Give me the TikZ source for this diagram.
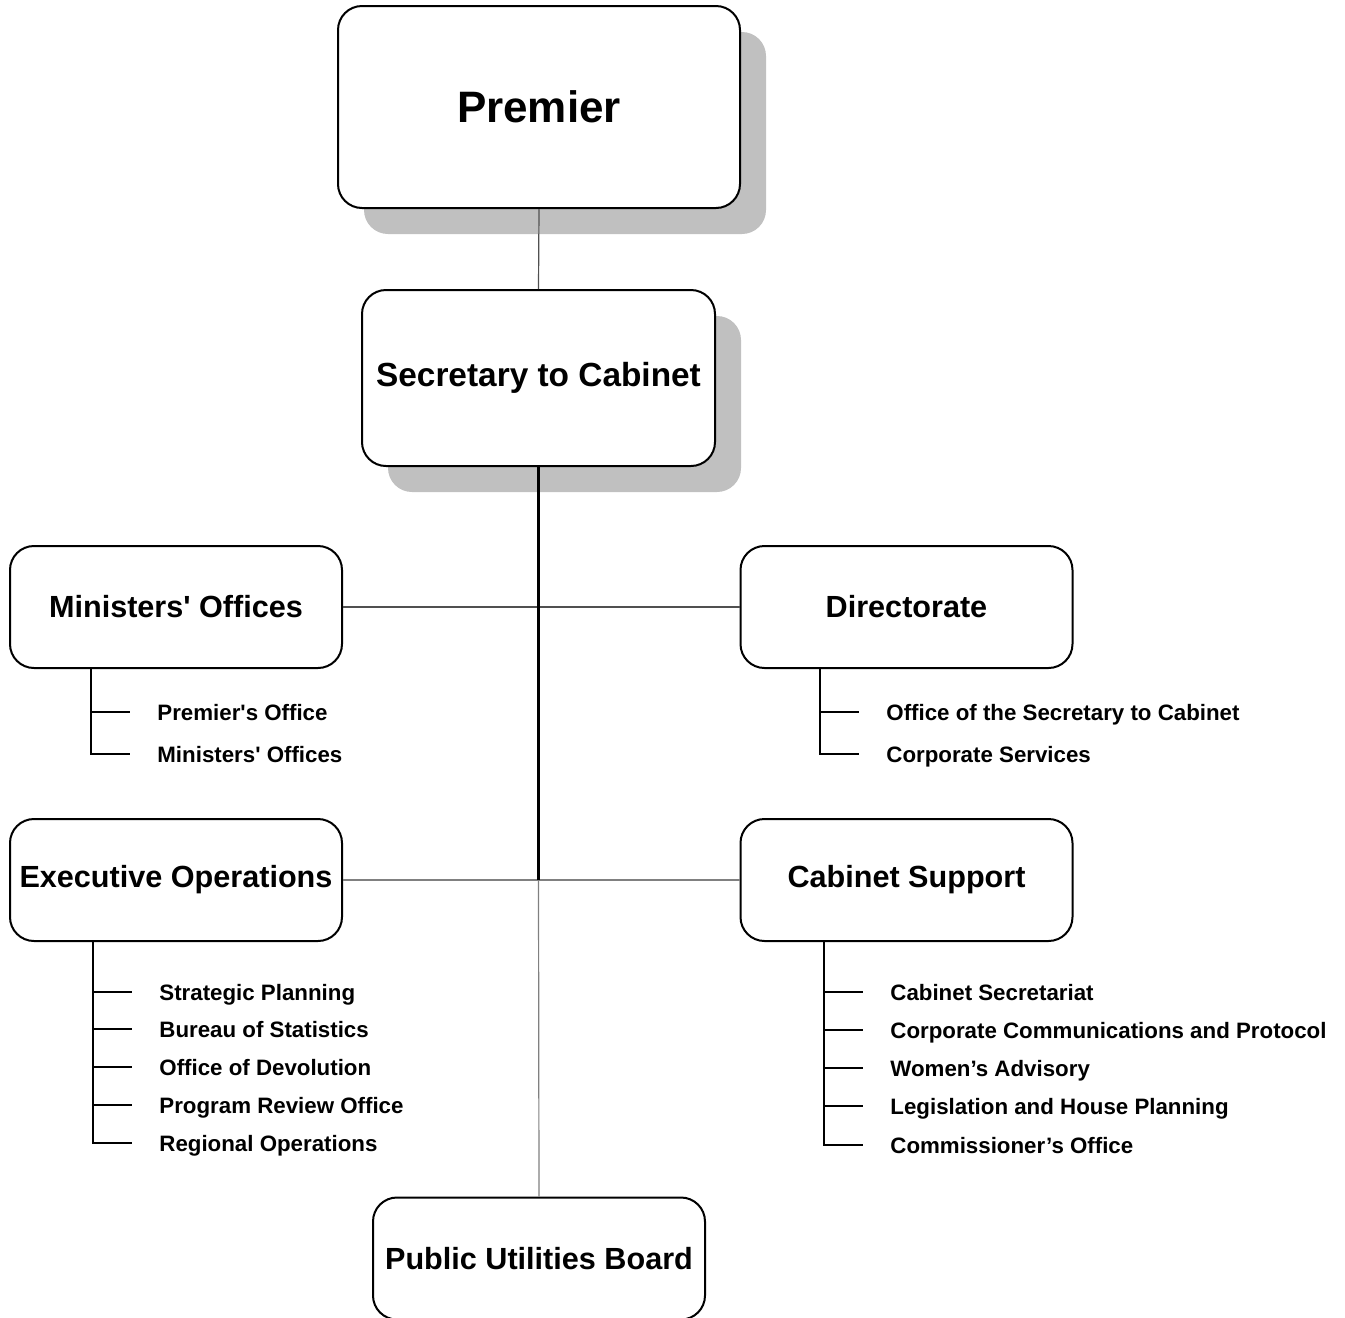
\documentclass[tikz,border=0pt]{standalone}
\usepackage{fontspec}
\setmainfont{Liberation Sans}
\usetikzlibrary{shadows}
\definecolor{orgshadow}{RGB}{192,192,192}
\definecolor{orgline}{RGB}{80,80,80}
\definecolor{orglow}{RGB}{128,128,128}

\tikzset{
  unit/.style={draw,line width=1pt,rounded corners=12pt,fill=white,align=center,inner sep=2pt,
    font=\bfseries\fontsize{15.3}{18}\selectfont,minimum width=166pt,minimum height=61pt},
  shadowed/.style={drop shadow={shadow xshift=13pt,shadow yshift=-13pt,fill=orgshadow,opacity=1}},
  item/.style={anchor=west,inner sep=0pt,text height=8pt,text depth=0pt,
    font=\bfseries\fontsize{11.15}{13}\selectfont},
  branch/.style={line width=1pt},
  trunk/.style={line width=1.4pt},
  thinline/.style={line width=0.6pt,orgline},
  lowline/.style={line width=0.6pt,orglow}
}

\begin{document}
\begin{tikzpicture}[x=0.5pt,y=-0.5pt]
\useasboundingbox (0,0) rectangle (1345,1318);
% Top of the chart
\node[unit,shadowed,minimum width=201pt,minimum height=101pt,font=\bfseries\fontsize{22}{26}\selectfont] (prem) at (539,107) {Premier};
\node[unit,shadowed,minimum width=176.5pt,minimum height=88pt,font=\bfseries\fontsize{16.7}{20}\selectfont] (sec) at (538.5,378) {Secretary to Cabinet};
% Divisions
\node[unit] (min) at (176,607) {Ministers\textquotesingle{} Offices};
\node[unit] (dir) at (906.5,607) {Directorate};
\node[unit] (exec) at (176,880) {Executive Operations};
\node[unit] (cab) at (906.5,880) {Cabinet Support};
\node[unit] (pub) at (539,1258.5) {Public Utilities Board};
% Connectors
\coordinate (jlow) at (sec.south |- exec.east);
\draw[thinline] (prem.south) -- (sec.north);
\draw[thinline] (min.east) -- (dir.west);
\draw[lowline] (exec.east) -- (cab.west);
\draw[lowline] (jlow) -- (pub.north);
\draw[trunk] (sec.south) -- (jlow);
% Ministers' Offices units
\node[item] (po) at (157,712) {Premier\textquotesingle s Office};
\node[item] (mo) at (157,754) {Ministers\textquotesingle{} Offices};
\coordinate (minstem) at ([xshift=-33pt]po.west |- min.south);
\draw[branch] (minstem |- po.west) -- ([xshift=-13.5pt]po.west);
\draw[branch] (minstem) |- ([xshift=-13.5pt]mo.west);
% Directorate units
\node[item] (osc) at (886,712) {Office of the Secretary to Cabinet};
\node[item] (cs) at (886,754) {Corporate Services};
\coordinate (dirstem) at ([xshift=-33pt]osc.west |- dir.south);
\draw[branch] (dirstem |- osc.west) -- ([xshift=-13.5pt]osc.west);
\draw[branch] (dirstem) |- ([xshift=-13.5pt]cs.west);
% Executive Operations units
\foreach \name/\y/\txt in {sp/992/Strategic Planning, bs/1029/Bureau of Statistics,
    od/1067/Office of Devolution, pr/1105/Program Review Office, ro/1143/Regional Operations}
  \node[item] (\name) at (159,\y) {\txt};
\coordinate (exstem) at ([xshift=-33pt]sp.west |- exec.south);
\foreach \name in {sp,bs,od,pr}
  \draw[branch] (exstem |- \name.west) -- ([xshift=-13.5pt]\name.west);
\draw[branch] (exstem) |- ([xshift=-13.5pt]ro.west);
% Cabinet Support units
\foreach \name/\y/\txt in {csec/992/Cabinet Secretariat, ccp/1030/Corporate Communications and Protocol,
    wa/1068/Women’s Advisory, lhp/1106/Legislation and House Planning, co/1145/Commissioner’s Office}
  \node[item] (\name) at (890,\y) {\txt};
\coordinate (cabstem) at ([xshift=-33pt]csec.west |- cab.south);
\foreach \name in {csec,ccp,wa,lhp}
  \draw[branch] (cabstem |- \name.west) -- ([xshift=-13.5pt]\name.west);
\draw[branch] (cabstem) |- ([xshift=-13.5pt]co.west);
\end{tikzpicture}
\end{document}
